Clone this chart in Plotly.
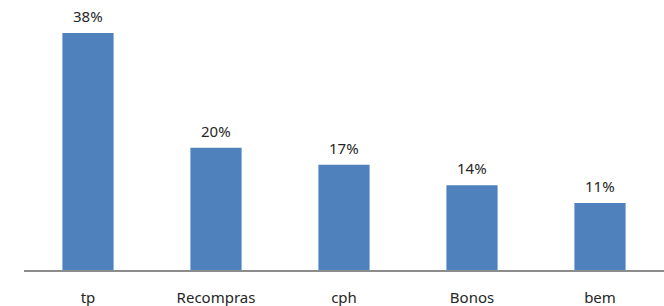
import plotly.graph_objects as go

categories = ["tp", "Recompras", "cph", "Bonos", "bem"]
values = [0.378, 0.195, 0.168, 0.135, 0.107]
value_labels = ["38%", "20%", "17%", "14%", "11%"]

FONT = "Noto Sans, Open Sans, sans-serif"

fig = go.Figure()
fig.add_trace(go.Bar(
    x=categories, y=values,
    marker=dict(color="#4F81BD", line=dict(width=0)),
    hoverinfo="skip",
))

for c, v, t in zip(categories, values, value_labels):
    fig.add_annotation(
        x=c, y=v, text=t, showarrow=False,
        yanchor="bottom", yshift=5,
        font=dict(family=FONT, size=15, color="#262626"),
    )

fig.update_layout(
    width=664, height=306,
    margin=dict(l=24, r=0, t=0, b=36),
    plot_bgcolor="white", paper_bgcolor="white",
    bargap=0.6, showlegend=False,
    font=dict(family=FONT, size=15, color="#262626"),
)
fig.update_xaxes(
    showline=True, linecolor="#8C8C8C", linewidth=1.5,
    showgrid=False, ticks="outside", ticklen=13, tickcolor="rgba(0,0,0,0)",
    tickfont=dict(family=FONT, size=15, color="#262626"),
)
fig.update_yaxes(
    range=[0, 0.4306], visible=False, showgrid=False, zeroline=False,
)

fig.write_html(
    "out.html",
    config={"displayModeBar": False, "staticPlot": True},
    post_script="document.body.style.margin='0';document.body.style.overflow='hidden';",
)
